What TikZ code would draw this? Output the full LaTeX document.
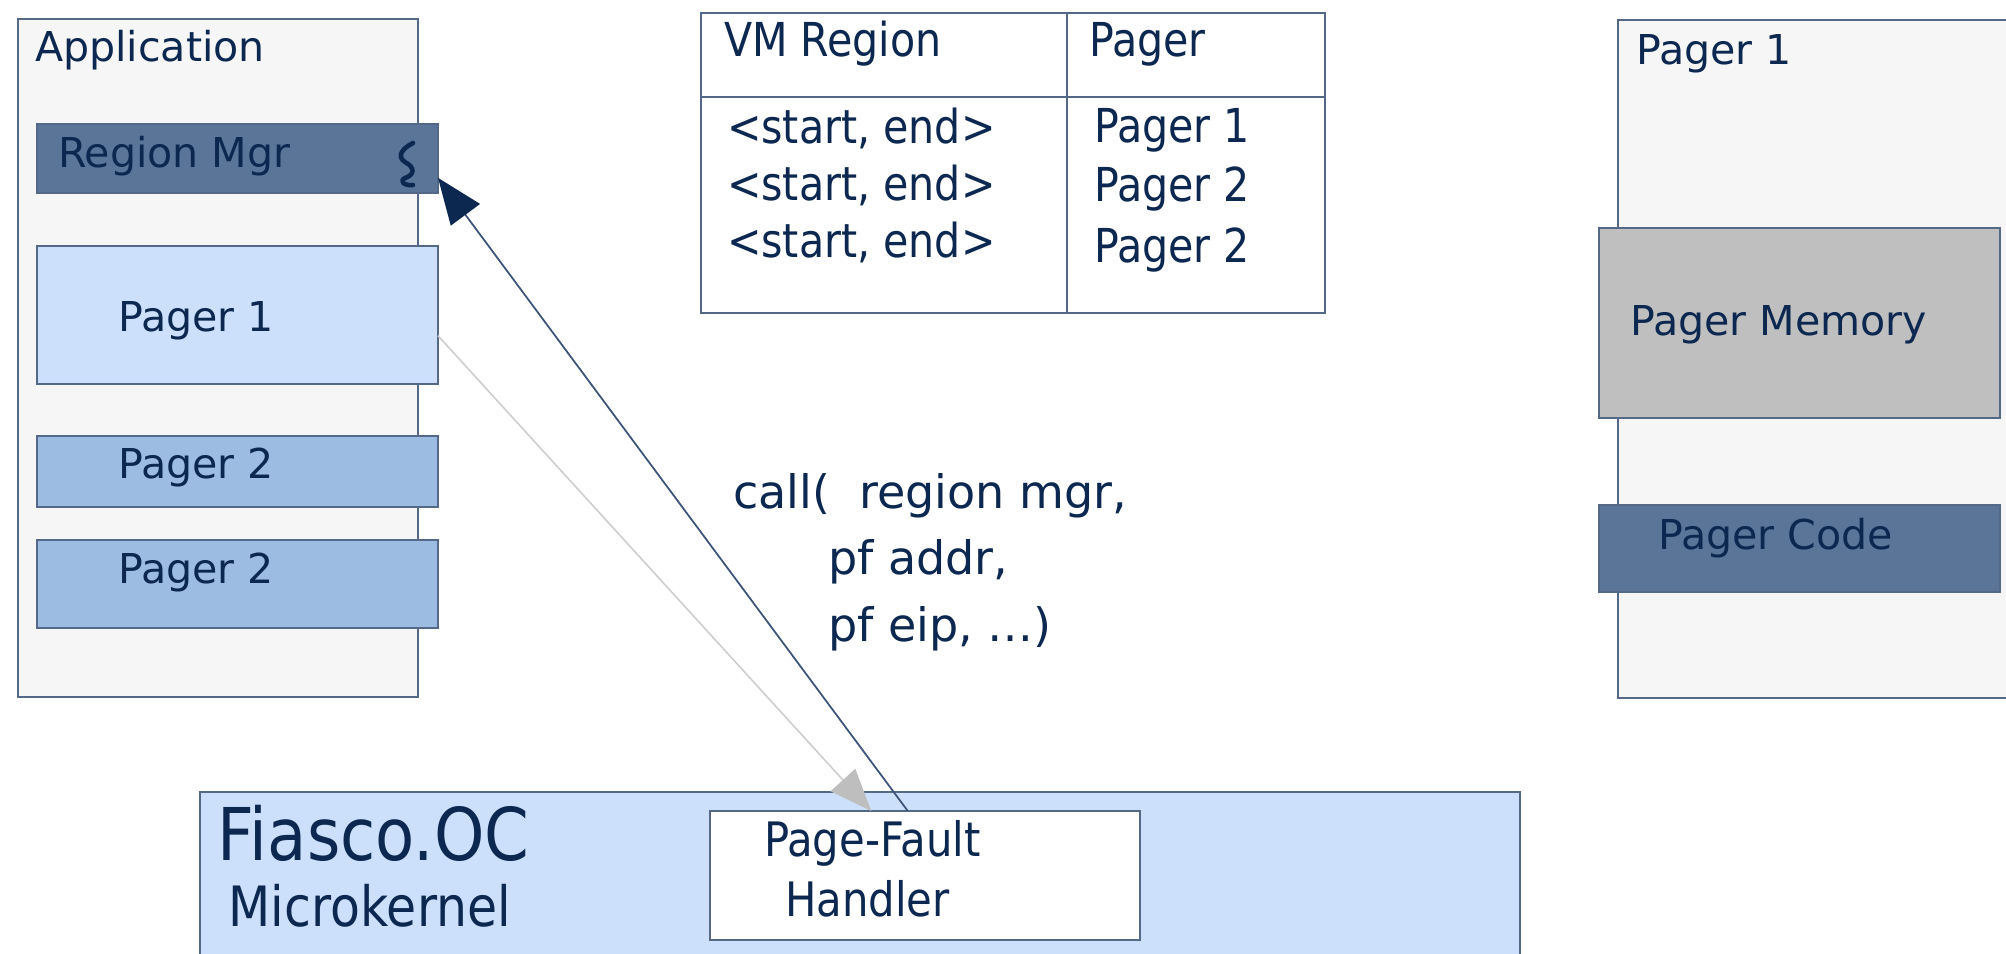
\documentclass[tikz,border=0pt]{standalone}
\usepackage{fontspec}
\setmainfont{DejaVu Sans}
\newfontfamily\condf[FakeStretch=0.88]{DejaVu Sans}
\usetikzlibrary{arrows.meta,fit,calc}
\definecolor{navy}{RGB}{12,40,80}
\definecolor{edge}{RGB}{84,104,136}
\definecolor{appbg}{RGB}{246,246,246}
\definecolor{darkbox}{RGB}{90,117,152}
\definecolor{lightbox}{RGB}{204,224,251}
\definecolor{midbox}{RGB}{157,188,225}
\definecolor{greybox}{RGB}{191,191,191}
\definecolor{greyarrow}{RGB}{190,190,190}
\definecolor{greyline}{RGB}{205,205,205}
\definecolor{darkline}{RGB}{60,84,120}
\begin{document}
\begin{tikzpicture}[x=0.01cm,y=-0.01cm,
  box/.style={draw=edge, line width=0.45pt, inner sep=0pt, outer sep=0pt},
  lbl/.style={anchor=base west, inner sep=0pt, outer sep=0pt, text=navy, font=\fontsize{11.7}{14}\selectfont},
  tbl/.style={anchor=base west, inner sep=0pt, outer sep=0pt, text=navy, font=\condf\fontsize{13.3}{16}\selectfont},
  calltxt/.style={anchor=base west, inner sep=0pt, outer sep=0pt, text=navy, font=\fontsize{13.1}{16}\selectfont},
  kern/.style={anchor=base west, inner sep=0pt, outer sep=0pt, text=navy, font=\condf\fontsize{13.5}{16}\selectfont},
]
\path[use as bounding box] (0,0) rectangle (2006,953);
\clip (0,0) rectangle (2006,953);

% Application
\node[box, fill=appbg, fit={(18,19) (418,697)}] (app) {};
\node[box, fill=darkbox, fit={(37,124) (438,193)}] (rmgr) {};
\node[box, fill=lightbox, fit={(37,246) (438,384)}] (pg1) {};
\node[box, fill=midbox, fit={(37,436) (438,507)}] (pg2a) {};
\node[box, fill=midbox, fit={(37,540) (438,628)}] (pg2b) {};
\node[lbl] (appt) at (35,61) {Application};
\node[lbl] (rmgrt) at (58,167) {Region Mgr};
\node[lbl] (pg1t) at (118,331) {Pager 1};
\node[lbl] (pg2at) at (118,478) {Pager 2};
\node[lbl] (pg2bt) at (118,583) {Pager 2};
\draw[navy, line width=1.3pt, line cap=round, line join=round]
  (413,143) .. controls (401,149) and (397,157) .. (405,162)
  .. controls (416,168) and (414,175) .. (405,178)
  .. controls (399,181) and (404,186) .. (413,185);

% Table
\node[box, fill=white, fit={(701,13) (1325,313)}] (tab) {};
\draw[edge, line width=0.45pt] (1067,13) -- (1067,313);
\draw[edge, line width=0.45pt] (701,97) -- (1325,97);
\node[tbl] (h1) at (724,56) {VM Region};
\node[tbl] (h2) at (1089,56) {Pager};
\node[tbl] (r1) at (727,143) {<start, end>};
\node[tbl] (r2) at (727,200) {<start, end>};
\node[tbl] (r3) at (727,257) {<start, end>};
\node[tbl] (p1) at (1094,142) {Pager 1};
\node[tbl] (p2) at (1094,201) {Pager 2};
\node[tbl] (p3) at (1094,262) {Pager 2};

% Right pager
\node[box, fill=appbg, fit={(1618,20) (2040,698)}] (rp) {};
\node[box, fill=greybox, fit={(1599,228) (2000,418)}] (pmem) {};
\node[box, fill=darkbox, fit={(1599,505) (2000,592)}] (pcode) {};
\node[lbl] (rpt) at (1636,64) {Pager 1};
\node[lbl] (pmemt) at (1630,335) {Pager Memory};
\node[lbl] (pcodet) at (1658,549) {Pager Code};

% Kernel
\node[box, fill=lightbox, fit={(200,792) (1520,970)}] (fiasco) {};
\node[box, fill=white, fit={(710,811) (1140,940)}] (pfh) {};
\node[anchor=base west, inner sep=0pt, text=navy, font=\condf\fontsize{20.7}{24}\selectfont] (fiascot) at (217,860) {Fiasco.OC};
\node[anchor=base west, inner sep=0pt, text=navy, font=\condf\fontsize{15.8}{19}\selectfont] (mkt) at (228,926) {Microkernel};
\node[kern] (pft) at (764,856) {Page-Fault};
\node[kern] (hdt) at (785,916) {Handler};

% call text
\node[calltxt] (c1) at (733,508) {call(\ \ region mgr,};
\node[calltxt] (c2) at (828,574) {pf addr,};
\node[calltxt] (c3) at (828,641) {pf eip, …)};

% Arrows
\draw[greyline, line width=0.45pt, -{Triangle[length=0.42cm, width=0.33cm, color=greyarrow, fill=greyarrow]}]
  ($(pg1.south east)!0.35!(pg1.north east)$) -- ($(pfh.north west)!0.375!(pfh.north east)$);
\draw[darkline, line width=0.5pt, -{Triangle[length=0.46cm, width=0.36cm, color=navy, fill=navy]}]
  ($(pfh.north west)!0.46!(pfh.north east)$) -- ($(rmgr.south east)!0.22!(rmgr.north east)$);
\end{tikzpicture}
\end{document}
